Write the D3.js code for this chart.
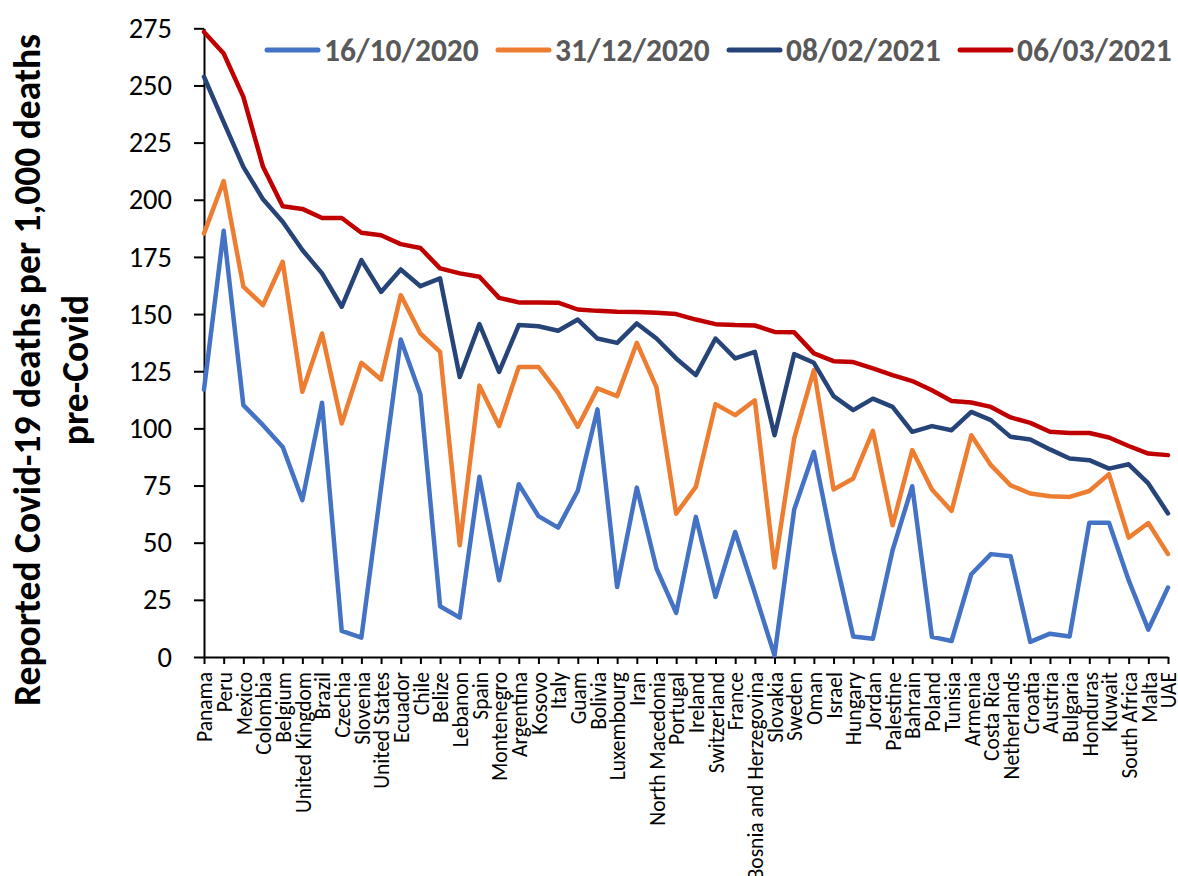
<!DOCTYPE html>
<html><head><meta charset="utf-8">
<script src="https://cdn.jsdelivr.net/npm/d3@7"></script>
<style>
html,body{margin:0;padding:0;background:#fff;}
svg{display:block;}
text{font-family:Calibri, Carlito, Lato, "Open Sans", sans-serif;}
</style></head>
<body>
<svg id="chart" width="1178" height="876"></svg>
<script>
const countries = ["Panama","Peru","Mexico","Colombia","Belgium","United Kingdom","Brazil","Czechia","Slovenia","United States","Ecuador","Chile","Belize","Lebanon","Spain","Montenegro","Argentina","Kosovo","Italy","Guam","Bolivia","Luxembourg","Iran","North Macedonia","Portugal","Ireland","Switzerland","France","Bosnia and Herzegovina","Slovakia","Sweden","Oman","Israel","Hungary","Jordan","Palestine","Bahrain","Poland","Tunisia","Armenia","Costa Rica","Netherlands","Croatia","Austria","Bulgaria","Honduras","Kuwait","South Africa","Malta","UAE"];

const seriesNames = ["16/10/2020","31/12/2020","08/02/2021","06/03/2021"];

const oct2020 = [117,186.4,110.2,101.4,91.9,68.6,111.2,11.4,8.5,74,138.9,114.8,22.2,17.2,78.8,33.6,75.6,61.6,56.6,72.7,108.3,30.6,74.1,38.7,19.3,61.3,26.3,54.7,28,0.7,64.5,89.7,46.7,9,8,46.7,74.7,8.8,7,36.2,45,44.1,6.6,10.2,9,58.7,58.7,33.6,12,30.4];
const dec2020 = [185.3,208.2,162,153.9,172.9,116,141.5,102.1,128.7,121.4,158.3,141.5,133.5,48.9,118.7,101,126.9,126.9,115.5,100.7,117.5,114.1,137.4,117.9,62.7,74.4,110.6,105.8,112.3,39.1,95.6,125.5,73.3,78.1,98.9,57.6,90.5,73.3,63.9,97,83.9,75.1,71.5,70.3,70,72.6,80,52.2,58.6,45];
const feb2021 = [253.8,234,214.4,200.2,190.4,178,167.8,153.2,173.6,159.7,169.5,162.2,165.6,122.5,145.6,124.7,145.2,144.7,142.7,147.6,139.3,137.4,145.9,139.3,130.6,123.3,139.3,130.6,133.5,97,132.5,128.7,114.1,108,113,109.4,98.5,101,99.2,107.2,103.6,96.3,95.1,90.8,86.8,86.1,82.4,84.3,75.9,62.8];
const mar2021 = [273.4,264,245,214.4,197.2,196,192,192,185.6,184.5,180.6,178.9,170,167.8,166.3,157.1,155.1,155.1,155,152,151.4,151,150.9,150.6,150,147.6,145.6,145.2,145,142.2,142,132.8,129.4,129,126.2,123.3,120.7,116.7,112,111.3,109.4,104.8,102.4,98.5,98,98,96,92.3,89,88.3];

const yTicks = [0,25,50,75,100,125,150,175,200,225,250,275];
const colors = ["#4472C4","#ED7D31","#264478","#C00000"];
const allSeries = [oct2020, dec2020, feb2021, mar2021];

const svg = d3.select("#chart");
const x = d3.scalePoint().domain(countries).range([204, 1168]);
const y = d3.scaleLinear().domain([0, 275]).range([657, 28.3]);

// Y axis
const yAxis = svg.append("g").attr("transform","translate(204,0)")
  .call(d3.axisLeft(y).tickValues(yTicks).tickSize(10).tickPadding(22).tickSizeOuter(0));
yAxis.select(".domain").attr("stroke","#000").attr("stroke-width",2);
yAxis.selectAll(".tick line").attr("stroke","#000").attr("stroke-width",2);
yAxis.selectAll(".tick text").attr("font-size",28.5).attr("fill","#000")
  .style("font-family","Calibri, Carlito, Lato, sans-serif");

// X axis
const xAxis = svg.append("g").attr("transform","translate(0,657)")
  .call(d3.axisBottom(x).tickSize(7).tickSizeOuter(0));
xAxis.select(".domain").attr("stroke","#000").attr("stroke-width",2);
xAxis.selectAll(".tick line").attr("stroke","#000").attr("stroke-width",2);
xAxis.selectAll(".tick text")
  .attr("font-size",21.5).attr("fill","#000")
  .attr("text-anchor","end")
  .attr("transform","translate(0,15) rotate(-90)")
  .attr("x",0).attr("y",0).attr("dy","0.36em")
  .style("font-family","Calibri, Carlito, Lato, sans-serif");

// Lines
const line = d3.line().x((d,i)=>x(countries[i])).y(d=>y(d));
allSeries.forEach((s,k)=>{
  svg.append("path").datum(s).attr("d",line)
    .attr("fill","none").attr("stroke",colors[k]).attr("stroke-width",4.5)
    .attr("stroke-linejoin","round").attr("stroke-linecap","round");
});

// Y title
const yt = svg.append("text").attr("transform","translate(40,370) rotate(-90)")
  .attr("text-anchor","middle").attr("font-weight","bold").attr("font-size",37.5).attr("fill","#000");
yt.append("tspan").attr("x",0).attr("dy",0).text("Reported Covid-19 deaths per 1,000 deaths");
yt.append("tspan").attr("x",0).attr("dy",48).text("pre-Covid");

// Legend
const legX = [265, 496, 727, 958];
const leg = svg.append("g");
seriesNames.forEach((n,k)=>{
  leg.append("line").attr("x1",legX[k]+2).attr("x2",legX[k]+53).attr("y1",50).attr("y2",50)
    .attr("stroke",colors[k]).attr("stroke-width",5).attr("stroke-linecap","round");
  leg.append("text").attr("x",legX[k]+59).attr("y",50).attr("dy","0.36em")
    .attr("font-size",31.5).attr("font-weight","bold").attr("fill","#595959").text(n);
});
</script>
</body></html>
